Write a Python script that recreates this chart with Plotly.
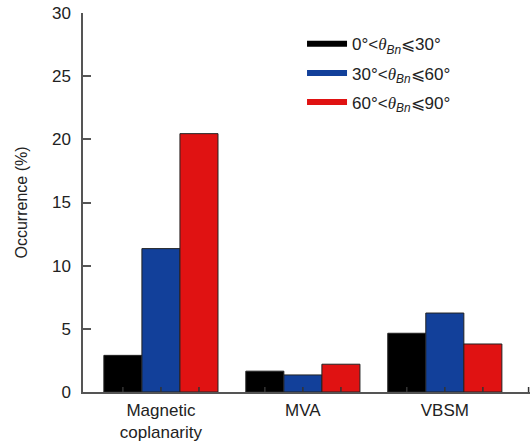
import plotly.graph_objects as go

categories = ["Magnetic<br>coplanarity", "MVA", "VBSM"]
theta = "<span style='font-family:Liberation Serif, Times New Roman, serif'><i>θ</i></span>"
series_names = [
    f"0°&lt;{theta}<sub><i>Bn</i></sub>⩽30°",
    f"30°&lt;{theta}<sub><i>Bn</i></sub>⩽60°",
    f"60°&lt;{theta}<sub><i>Bn</i></sub>⩽90°",
]
values_0_30 = [2.9, 1.65, 4.65]
values_30_60 = [11.35, 1.35, 6.25]
values_60_90 = [20.45, 2.2, 3.8]
colors = ["#000000", "#12409a", "#e01212"]
y_ticks = [0, 5, 10, 15, 20, 25, 30]

xpos = [0, 1, 2]
bar_w = 0.268
series = [values_0_30, values_30_60, values_60_90]

fig = go.Figure()
for i, (vals, col) in enumerate(zip(series, colors)):
    fig.add_trace(go.Bar(
        x=xpos, y=vals, width=bar_w, offset=(i - 1.5) * bar_w,
        marker=dict(color=col, line=dict(color="#222222", width=1)),
        showlegend=False,
    ))
for k, (name, col) in enumerate(zip(series_names, colors)):
    fig.add_trace(go.Scatter(
        x=[None], y=[None], mode="lines", name=name, legendgroup=f"g{k}",
        line=dict(color=col, width=6),
    ))

# small inward tick marks at bar centers and at the axis end
tick_centers = [x + d * bar_w for x in xpos for d in (-1, 0, 1)] + [2.59]
for tc in tick_centers:
    fig.add_shape(
        type="line", xref="x", yref="y", x0=tc, x1=tc,
        ysizemode="pixel", yanchor=0, y0=0, y1=5,
        line=dict(color="#333333", width=1.5), layer="above",
    )

fig.update_layout(
    width=531, height=443,
    margin=dict(l=83, r=1, t=13, b=51),
    plot_bgcolor="white", paper_bgcolor="white",
    font=dict(family="Arial, Liberation Sans, sans-serif", size=17, color="#222222"),
    barmode="overlay",
    xaxis=dict(
        range=[-0.549, 2.6], automargin=False,
        tickmode="array", tickvals=xpos, ticktext=categories,
        ticks="", ticklabelstandoff=2,
        showline=True, linecolor="#555555", linewidth=1.5,
        showgrid=False, zeroline=False,
        tickfont=dict(size=17),
    ),
    yaxis=dict(
        range=[0, 30], tickmode="array", tickvals=y_ticks, automargin=False,
        ticks="inside", ticklen=8, tickwidth=1.5, tickcolor="#555555",
        ticklabelstandoff=7,
        showline=True, linecolor="#555555", linewidth=1.5,
        showgrid=False, zeroline=False,
        title=dict(text="Occurrence (%)", font=dict(size=16), standoff=20),
        tickfont=dict(size=17),
    ),
    legend=dict(
        x=0.49, y=0.965, xanchor="left", yanchor="top",
        bgcolor="rgba(0,0,0,0)", font=dict(size=17),
        tracegroupgap=4, itemwidth=40,
    ),
)
fig.write_html("out.html", config={"displayModeBar": False},
               post_script="document.body.style.margin='0';")
